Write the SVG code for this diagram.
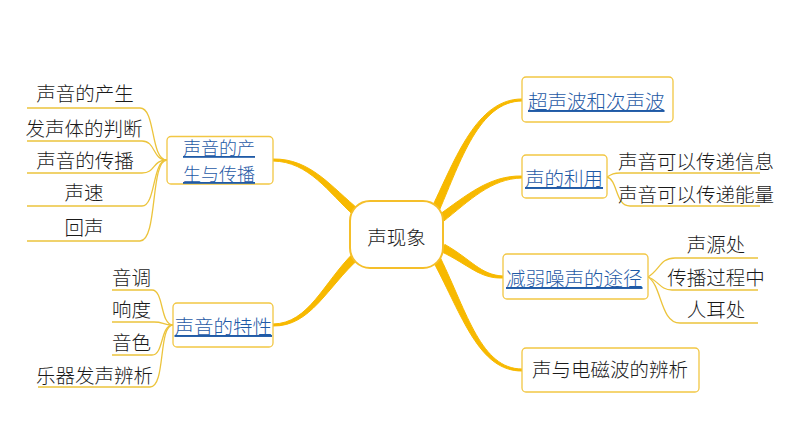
<svg xmlns="http://www.w3.org/2000/svg" width="794" height="447" viewBox="0 0 794 447">
<style>
text{font-family:"Noto Sans CJK SC","Liberation Sans",sans-serif;font-size:19.5px;font-weight:300;fill:#1a1a1a}
.link{fill:#1f5aa6;text-decoration:underline}
.box{fill:#fff;stroke:#f2c744;stroke-width:1.3}
.branch{fill:#f7b900;stroke:#f7b900;stroke-width:1;stroke-linejoin:round}
.leaf{fill:none;stroke:#ecc43c;stroke-width:1.3}
.mid{text-anchor:middle}
</style>
<rect width="794" height="447" fill="#fff"/>
<g id="connectors">
<path class="branch" d="M 359.6,210 C 331.7,187.7 310.9,158.3 273,159 L 273,161 C 309.1,161.7 328.3,192.3 354.4,216 Z"/>
<path class="branch" d="M 354.3,252.1 C 323.2,282.7 309.1,323.4 273,324 L 273,326 C 310.9,326.6 326.8,287.3 359.7,257.9 Z"/>
<path class="branch" d="M 439.6,209.7 C 460.4,161.5 479.2,101.2 522,101 L 522,99 C 476.8,98.8 455.6,158.5 432.4,206.3 Z"/>
<path class="branch" d="M 442.4,222.2 C 469.6,200.5 490.8,178.7 522,178 L 522,176 C 489.2,175.3 466.4,195.5 437.6,215.8 Z"/>
<path class="branch" d="M 441.2,251.6 C 468.8,264.7 479.4,278.9 503,278 L 503,276 C 480.6,275.1 471.2,259.3 444.8,244.4 Z"/>
<path class="branch" d="M 433.4,261.8 C 462.6,316.5 478.8,371.2 522,371 L 522,369 C 481.2,368.8 467.4,313.5 440.6,258.2 Z"/>
<path class="leaf" d="M 27,108 L 140,108 C 156,108 150,160 167,160"/>
<path class="leaf" d="M 27,141 L 142,141 C 156,141 152,160 167,160"/>
<path class="leaf" d="M 27,173 L 142,173 C 156,173 152,160 167,160"/>
<path class="leaf" d="M 27,206 L 142,206 C 156,206 152,160 167,160"/>
<path class="leaf" d="M 27,241 L 140,241 C 158,241 150,160 167,160"/>
<path class="leaf" d="M 112,290 L 152,290 C 164,290 160,325 173,325"/>
<path class="leaf" d="M 112,322 L 154,322 C 164,322 162,325 173,325"/>
<path class="leaf" d="M 112,355 L 152,355 C 164,355 160,325 173,325"/>
<path class="leaf" d="M 38,387 L 150,387 C 166,387 158,325 173,325"/>
<path class="leaf" d="M 607,177 C 612,174 614,173 620,173 L 760,173"/>
<path class="leaf" d="M 607,177 C 618,180 615,206 630,206 L 760,206"/>
<path class="leaf" d="M 648,277 C 660,270 660,258 675,258 L 758,258"/>
<path class="leaf" d="M 648,277 C 658,280 660,290 672,290 L 758,290"/>
<path class="leaf" d="M 648,277 C 662,285 660,323 680,323 L 758,323"/>
</g>
<g id="center">
<rect x="350" y="201" width="93" height="67" rx="20" fill="#fff" stroke="#f5bf2a" stroke-width="2"/>
<text x="396.5" y="245" class="mid">声现象</text>
</g>
<g id="n-produce">
<rect class="box" x="167" y="136.5" width="106" height="47.5" rx="4"/>
<text class="link" style="font-size:18px"><tspan x="183" y="155">声音的产</tspan><tspan x="183" y="181">生与传播</tspan></text>
</g>
<g id="leaves-produce">
<text class="mid" x="85" y="101">声音的产生</text>
<text class="mid" x="84" y="136">发声体的判断</text>
<text class="mid" x="85" y="168">声音的传播</text>
<text class="mid" x="84" y="200">声速</text>
<text class="mid" x="84" y="235">回声</text>
</g>
<g id="n-property">
<rect class="box" x="173" y="303" width="100" height="44" rx="4"/>
<text class="link" x="174.5" y="334">声音的特性</text>
</g>
<g id="leaves-property">
<text x="112" y="285">音调</text>
<text x="112" y="317">响度</text>
<text x="112" y="350">音色</text>
<text x="36" y="383">乐器发声辨析</text>
</g>
<g id="n-ultra">
<rect class="box" x="522" y="77" width="151" height="45" rx="4"/>
<text class="link" x="528" y="109">超声波和次声波</text>
</g>
<g id="n-use">
<rect class="box" x="522" y="155" width="85" height="43" rx="4"/>
<text class="link" x="525" y="186">声的利用</text>
</g>
<g id="leaves-use">
<text x="618" y="169">声音可以传递信息</text>
<text x="618" y="202">声音可以传递能量</text>
</g>
<g id="n-noise">
<rect class="box" x="503" y="254" width="145" height="45" rx="4"/>
<text class="link" x="506" y="286">减弱噪声的途径</text>
</g>
<g id="leaves-noise">
<text class="mid" x="716" y="252">声源处</text>
<text class="mid" x="716" y="285">传播过程中</text>
<text class="mid" x="716" y="317">人耳处</text>
</g>
<g id="n-em">
<rect class="box" x="522" y="348" width="177" height="44" rx="4"/>
<text x="532" y="377">声与电磁波的辨析</text>
</g>
</svg>
